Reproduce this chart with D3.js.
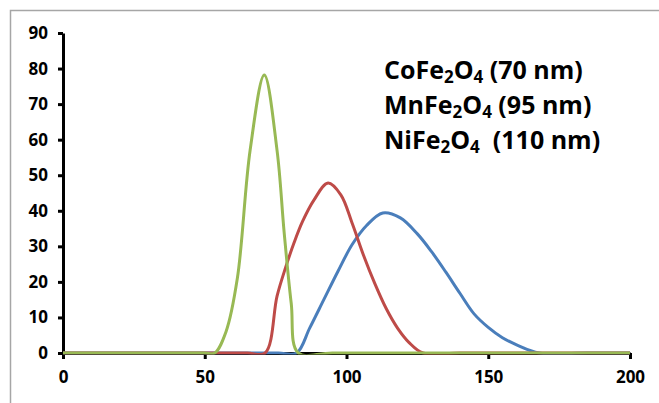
<!DOCTYPE html>
<html>
<head>
<meta charset="utf-8">
<script src="https://cdn.jsdelivr.net/npm/d3@7"></script>
<style>
  body { margin: 0; background: #fff; }
  svg { display: block; }
</style>
</head>
<body>
<div id="chart"></div>
<script>
// particle size (nm) vs intensity
const blueX = [0, 40, 65, 76, 82.4, 87, 92, 97, 102, 107, 112.8, 119, 125, 130, 135, 140, 145, 150, 155, 160, 168, 185, 200]
const blueY = [0, 0, 0, 0, 0, 7, 15, 23, 30.5, 35.8, 39.4, 38, 33.5, 28.5, 22.8, 16.8, 11, 7.2, 4.3, 2.3, 0, 0, 0]

const redX = [0, 30, 55, 65, 71.3, 75.5, 78.5, 81.5, 84.5, 88.5, 93.5, 98, 102, 106, 110, 114, 118, 122, 127, 140, 170, 200]
const redY = [0, 0, 0, 0, 0, 16, 24, 31, 37, 43, 47.8, 44.5, 36.5, 27.5, 19.5, 12.5, 7, 3, 0, 0, 0, 0]

const greenX = [0, 25, 45, 50, 53.5, 57.5, 61.5, 66, 71, 75.5, 78, 80.5, 83, 95, 150, 200]
const greenY = [0, 0, 0, 0, 0, 6, 21, 57, 78.2, 57, 34, 14, 0, 0, 0, 0]

const xTicks = [0, 50, 100, 150, 200]
const yTicks = [0, 10, 20, 30, 40, 50, 60, 70, 80, 90]

const legendLines = [
  ["CoFe", "2", "O", "4", " (70 nm)"],
  ["MnFe", "2", "O", "4", " (95 nm)"],
  ["NiFe", "2", "O", "4", "  (110 nm)"]
]

const width = 659, height = 403
const margin = {top: 33, right: 29, bottom: 50, left: 63}

const svg = d3.select("#chart").append("svg")
  .attr("width", width).attr("height", height)

// outer frame
svg.append("rect")
  .attr("x", 10.5).attr("y", 10.5)
  .attr("width", 700).attr("height", 500)
  .attr("fill", "none").attr("stroke", "#a6a6a6").attr("stroke-width", 1.5)

const xScale = d3.scaleLinear().domain([0, 200]).range([margin.left, width - margin.right])
const yScale = d3.scaleLinear().domain([0, 90]).range([height - margin.bottom, margin.top])

const font = "'Open Sans', sans-serif"

// axes
const yAxis = svg.append("g")
  .attr("transform", `translate(${margin.left},0)`)
  .call(d3.axisLeft(yScale).tickValues(yTicks).tickSize(5).tickPadding(10).tickSizeOuter(0))
yAxis.select(".domain").attr("stroke", "#000").attr("stroke-width", 3)
yAxis.selectAll(".tick line").attr("stroke", "#000").attr("stroke-width", 3)
yAxis.selectAll("text").style("font-family", font).style("font-weight", "bold")
  .style("font-size", "17px").attr("fill", "#000")

const xAxis = svg.append("g")
  .attr("transform", `translate(0,${yScale(0)})`)
  .call(d3.axisBottom(xScale).tickValues(xTicks).tickSize(6).tickPadding(12).tickSizeOuter(0))
xAxis.select(".domain").attr("stroke", "#000").attr("stroke-width", 3)
xAxis.selectAll(".tick line").attr("stroke", "#000").attr("stroke-width", 3)
xAxis.selectAll("text").style("font-family", font).style("font-weight", "bold")
  .style("font-size", "17px").attr("fill", "#000")

// clip so smoothed curves can't go below zero (like excel)
svg.append("clipPath").attr("id", "plotclip")
  .append("rect")
  .attr("x", xScale(0)).attr("y", yScale(90))
  .attr("width", xScale(200) - xScale(0) + 2)
  .attr("height", yScale(0) - yScale(90) + 1.5)

const series = [
  {x: blueX, y: blueY, color: "#4a7ebb"},
  {x: redX, y: redY, color: "#be4b48"},
  {x: greenX, y: greenY, color: "#98b954"}
]

const line = d3.line()
  .x(d => xScale(d[0]))
  .y(d => yScale(d[1]))
  .curve(d3.curveCatmullRom.alpha(0.5))

series.forEach(function(s) {
  svg.append("path")
    .attr("d", line(s.x.map((v, i) => [v, s.y[i]])))
    .attr("clip-path", "url(#plotclip)")
    .attr("fill", "none")
    .attr("stroke", s.color)
    .attr("stroke-width", 3)
})

// legend text
legendLines.forEach(function(parts, i) {
  const t = svg.append("text")
    .attr("x", 384).attr("y", 79 + i * 35)
    .style("font-family", font).style("font-weight", "bold")
    .style("font-size", "25px").attr("fill", "#000")
    .attr("xml:space", "preserve")
  parts.forEach(function(p, j) {
    const sub = (j === 1 || j === 3)
    t.append("tspan")
      .attr("dy", sub ? 4 : (j === 0 ? 0 : -4))
      .style("font-size", sub ? "17px" : "25px")
      .text(p)
  })
})
</script>
</body>
</html>
